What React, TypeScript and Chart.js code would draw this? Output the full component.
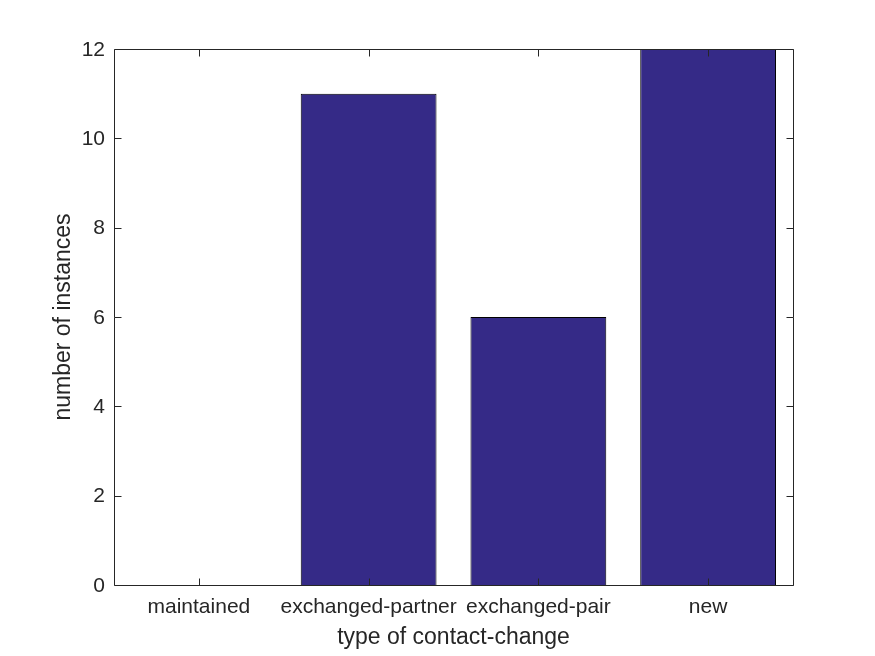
import React, { useEffect, useRef } from "react";
import { Chart, registerables } from "chart.js";

Chart.register(...registerables);

const categories = ["maintained", "exchanged-partner", "exchanged-pair", "new"];
const counts = [0, 11, 6, 12];
const yTicks = [0, 2, 4, 6, 8, 10, 12];
const xTitle = "type of contact-change";
const yTitle = "number of instances";

const W = 875;
const H = 656;
const TEXT = "#262626";
const FONT = "'Liberation Sans', Arial, Helvetica, sans-serif";

const boxPlugin = {
  id: "matlabBox",
  afterDatasetsDraw(chart: any) {
    const { ctx, chartArea } = chart;
    const { left, right, top, bottom } = chartArea;
    const L = Math.round(left) + 0.5;
    const R = Math.round(right) + 0.5;
    const T = Math.round(top) + 0.5;
    const B = Math.round(bottom) + 0.5;
    const tl = 7;
    ctx.save();
    ctx.strokeStyle = TEXT;
    ctx.lineWidth = 1;
    ctx.beginPath();
    const ys = chart.scales.y;
    yTicks.forEach((v) => {
      const py = Math.round(ys.getPixelForValue(v)) + 0.5;
      ctx.moveTo(L, py);
      ctx.lineTo(L + tl, py);
      ctx.moveTo(R, py);
      ctx.lineTo(R - tl, py);
    });
    const xs = chart.scales.x;
    categories.forEach((_, i) => {
      const px = Math.round(xs.getPixelForValue(i)) + 0.5;
      ctx.moveTo(px, B);
      ctx.lineTo(px, B - tl);
      ctx.moveTo(px, T);
      ctx.lineTo(px, T + tl);
    });
    ctx.stroke();
    ctx.beginPath();
    ctx.rect(L, T, R - L, B - T);
    ctx.stroke();
    ctx.restore();
  },
};

export default function App() {
  const ref = useRef<HTMLCanvasElement | null>(null);
  useEffect(() => {
    if (!ref.current) return;
    const chart = new Chart(ref.current, {
      type: "bar",
      data: {
        labels: categories,
        datasets: [
          {
            data: counts,
            backgroundColor: "#352A87",
            borderColor: "#000000",
            borderWidth: 1,
            barPercentage: 0.8,
            categoryPercentage: 1.0,
          },
        ],
      },
      options: {
        responsive: false,
        animation: false,
        devicePixelRatio: 1,
        layout: { padding: { top: 49, right: 82, left: 0, bottom: 0 } },
        plugins: { legend: { display: false }, tooltip: { enabled: false } },
        scales: {
          x: {
            grid: { display: false, drawTicks: false },
            border: { display: false },
            ticks: {
              color: TEXT,
              font: { family: FONT, size: 21 },
              padding: 10,
              maxRotation: 0,
              autoSkip: false,
            },
            title: {
              display: true,
              text: xTitle,
              color: TEXT,
              font: { family: FONT, size: 23 },
              padding: { top: 0, bottom: 5 },
            },
            afterFit: (s: any) => {
              s.height = 71;
            },
          },
          y: {
            min: 0,
            max: 12,
            grid: { display: false, drawTicks: false },
            border: { display: false },
            ticks: {
              stepSize: 2,
              color: TEXT,
              font: { family: FONT, size: 21 },
              padding: 9,
              labelOffset: 1,
            },
            title: {
              display: true,
              text: yTitle,
              color: TEXT,
              font: { family: FONT, size: 23 },
              padding: { top: 50, bottom: 0 },
            },
            afterFit: (s: any) => {
              s.width = 114;
            },
          },
        },
      },
      plugins: [boxPlugin],
    });
    return () => chart.destroy();
  }, []);
  return (
    <div style={{ position: "absolute", left: 0, top: 0, width: W, height: H, background: "#fff" }}>
      <canvas ref={ref} width={W} height={H} style={{ width: W, height: H }} />
    </div>
  );
}
